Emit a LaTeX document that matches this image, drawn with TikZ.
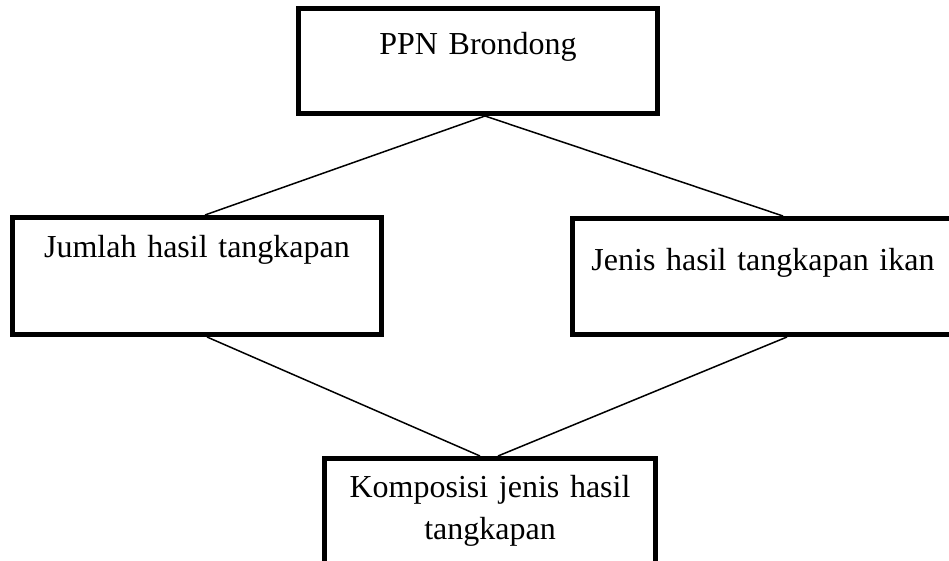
\documentclass[tikz,border=0pt]{standalone}
\usepackage{fontspec}
\setmainfont{Liberation Serif}

\tikzset{
    kotak/.style={draw, line width=5pt, inner sep=0pt, align=center,
        font=\fontsize{32}{42}\selectfont},
    garis/.style={line width=1.5pt}
}

\begin{document}
\begin{tikzpicture}[x=1pt,y=1pt]
    % Page frame
    \clip (0,0) rectangle (949,561);

    % Boxes
    \node[kotak, anchor=base, text width=359pt, text height=46.5pt, text depth=58.5pt]
        (ppn) at (478,506) {PPN Brondong};
    \node[kotak, anchor=base, text width=369pt, text height=40.5pt, text depth=76.5pt]
        (jumlah) at (197,303) {Jumlah hasil tangkapan};
    \node[kotak, anchor=base, text width=381pt, text height=52.5pt, text depth=63.5pt]
        (jenis) at (763,290) {Jenis hasil tangkapan ikan};
    \node[kotak, anchor=base, text width=331pt, text height=39.5pt, text depth=100pt]
        (komposisi) at (490,63) {Komposisi jenis hasil\\tangkapan};

    % Connecting lines
    \draw[garis] ([xshift=7pt]ppn.south) -- ([xshift=8pt]jumlah.north);
    \draw[garis] ([xshift=7pt]ppn.south) -- ([xshift=20pt]jenis.north);
    \draw[garis] ([xshift=10pt]jumlah.south) -- ([xshift=-10pt]komposisi.north);
    \draw[garis] ([xshift=24pt]jenis.south) -- ([xshift=8pt]komposisi.north);
\end{tikzpicture}
\end{document}
